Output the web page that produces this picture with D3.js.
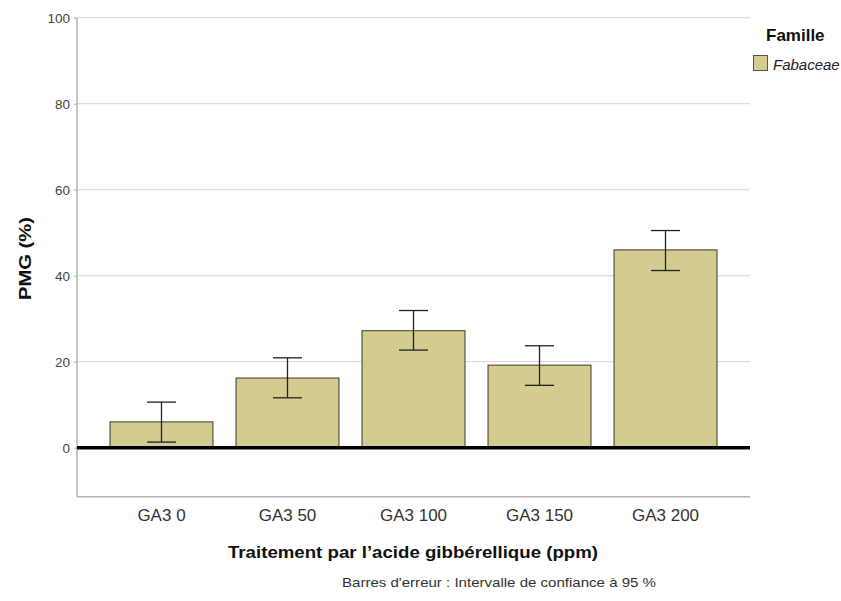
<!DOCTYPE html>
<html>
<head>
<meta charset="utf-8">
<script src="https://cdn.jsdelivr.net/npm/d3@7/dist/d3.min.js"></script>
<style>
  html, body { margin: 0; padding: 0; background: #fff; }
  svg { display: block; font-family: "Liberation Sans", Arial, sans-serif; }
</style>
</head>
<body>
<svg id="chart" width="841" height="601"></svg>
<script>
const categories = ["GA3 0", "GA3 50", "GA3 100", "GA3 150", "GA3 200"];
const means = [6.0, 16.2, 27.2, 19.2, 46.0];
const ciLow = [1.3, 11.6, 22.7, 14.5, 41.2];
const ciHigh = [10.6, 20.9, 31.9, 23.7, 50.5];
const yTicks = [0, 20, 40, 60, 80, 100];
const seriesName = "Fabaceae";
const legendTitle = "Famille";
const xTitle = "Traitement par l\u2019acide gibbérellique (ppm)";
const yTitle = "PMG (%)";
const footnote = "Barres d'erreur : Intervalle de confiance à 95 %";

(function () {
const data = categories.map((c, i) => ({ cat: c, mean: means[i], lo: ciLow[i], hi: ciHigh[i] }));

const svg = d3.select("#chart");
const pLeft = 77, pRight = 750, pTop = 17.7, pBottom = 496.7;
const barColor = "#d3cb8f";

const x = d3.scaleBand().domain(categories).range([pLeft, pRight])
  .paddingInner(0.183).paddingOuter(0.262);
const y = d3.scaleLinear().domain([-11.4, 100]).range([pBottom, pTop]);

// gridlines
svg.append("g").selectAll("line").data(yTicks.filter(t => t !== 0)).join("line")
  .attr("x1", pLeft).attr("x2", pRight)
  .attr("y1", d => y(d)).attr("y2", d => y(d))
  .attr("stroke", "#d6d6d6").attr("stroke-width", 1);

// y axis
const yAxis = d3.axisLeft(y).tickValues(yTicks).tickSize(3).tickPadding(4).tickFormat(d3.format("d"));
const gy = svg.append("g").attr("transform", `translate(${pLeft},0)`).call(yAxis);
gy.select(".domain").remove();
gy.selectAll(".tick line").attr("stroke", "#aaa");
gy.selectAll(".tick text").attr("font-size", 13.5).attr("fill", "#444")
  .attr("font-family", "'Liberation Sans', Arial, sans-serif");

svg.append("line").attr("x1", pLeft).attr("x2", pLeft).attr("y1", pTop).attr("y2", pBottom)
  .attr("stroke", "#b4b4b4").attr("stroke-width", 1.5);

// bars
svg.append("g").selectAll("rect").data(data).join("rect")
  .attr("x", d => x(d.cat)).attr("width", x.bandwidth())
  .attr("y", d => y(d.mean)).attr("height", d => y(0) - y(d.mean))
  .attr("fill", barColor).attr("stroke", "#3a3a2a").attr("stroke-width", 1);

// error bars
const capW = 29;
const eg = svg.append("g").attr("stroke", "#222").attr("stroke-width", 1.3);
data.forEach(d => {
  const cx = x(d.cat) + x.bandwidth() / 2;
  eg.append("line").attr("x1", cx).attr("x2", cx).attr("y1", y(d.hi)).attr("y2", y(d.lo));
  eg.append("line").attr("x1", cx - capW / 2).attr("x2", cx + capW / 2).attr("y1", y(d.hi)).attr("y2", y(d.hi));
  eg.append("line").attr("x1", cx - capW / 2).attr("x2", cx + capW / 2).attr("y1", y(d.lo)).attr("y2", y(d.lo));
});

// zero line
svg.append("line").attr("x1", pLeft).attr("x2", pRight).attr("y1", y(0)).attr("y2", y(0))
  .attr("stroke", "#000").attr("stroke-width", 3.5);

// x axis
const xAxis = d3.axisBottom(x).tickSize(0).tickPadding(12);
const gx = svg.append("g").attr("transform", `translate(0,${pBottom})`).call(xAxis);
gx.select(".domain").attr("stroke", "#b4b4b4").attr("stroke-width", 1.5)
  .attr("d", `M${pLeft},0H${pRight}`);
gx.selectAll(".tick text").attr("font-size", 17).attr("fill", "#333")
  .attr("font-family", "'Liberation Sans', Arial, sans-serif");

// titles
svg.append("text").attr("x", 228).attr("y", 558)
  .attr("font-size", 17).attr("font-weight", "bold")
  .attr("textLength", 370).attr("lengthAdjust", "spacingAndGlyphs")
  .attr("fill", "#111").text(xTitle);

svg.append("text").attr("transform", `translate(31,300) rotate(-90)`)
  .attr("font-size", 17).attr("font-weight", "bold")
  .attr("textLength", 83).attr("lengthAdjust", "spacingAndGlyphs")
  .attr("fill", "#111").text(yTitle);

svg.append("text").attr("x", 342).attr("y", 587)
  .attr("font-size", 13).attr("fill", "#333")
  .attr("textLength", 314).attr("lengthAdjust", "spacingAndGlyphs")
  .text(footnote);

// legend
svg.append("text").attr("x", 766).attr("y", 41).attr("font-size", 17)
  .attr("font-weight", "bold").attr("fill", "#111").text(legendTitle);
svg.append("rect").attr("x", 753.5).attr("y", 55.5).attr("width", 14).attr("height", 15)
  .attr("fill", barColor).attr("stroke", "#555").attr("stroke-width", 1);
svg.append("text").attr("x", 773).attr("y", 70).attr("font-size", 15)
  .attr("font-style", "italic").attr("fill", "#222").text(seriesName);
})();
</script>
</body>
</html>
